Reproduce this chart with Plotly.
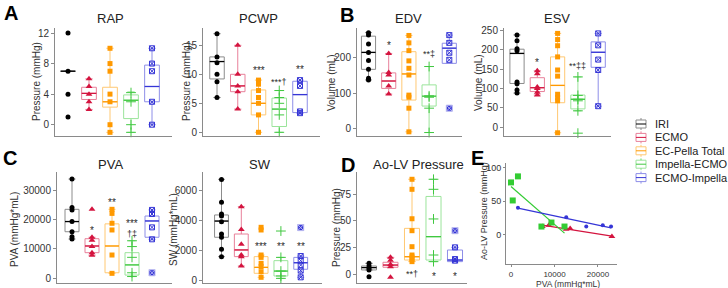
import numpy as np
import plotly.graph_objects as go

W, H = 728, 288
FONT = "Liberation Sans, Arial, sans-serif"

GROUPS = ["IRI", "ECMO", "EC-Pella Total", "Impella-ECMO", "ECMO-Impella"]

# ---- data: points per group, and box stats [lower whisker, q1, median, q3, upper whisker]
RAP_PTS = [[12, 7, 4, 1], [6, 5, 4, 3, 2], [10, 8, 7, 4, 3, 0, -1], [4.2, 3, 0, -1], [10, 8, 7, 3, 0]]
RAP_BOX = [[7, 7, 7, 7, 7], [2, 3.3, 4.1, 4.9, 6], [-1, 2.3, 3, 4.9, 10], [-1, 0.8, 3.2, 3.9, 4.3], [0, 3, 5, 7.8, 10]]
RAP_SIG = [[], [], [], [], []]

PCWP_PTS = [[17, 13, 12, 10, 8.7, 6], [15, 10, 8, 7, 4], [9, 8.3, 7.2, 6, 5, 3, 0], [7.2, 6, 5, 3, 0], [9, 8, 3.6, 3.3]]
PCWP_BOX = [[6, 9.2, 12.2, 13, 17], [4, 7, 8, 10, 15], [0, 3, 5, 7.3, 9], [0, 1, 4, 5.9, 7.2], [3.3, 3.4, 6.5, 8.8, 9]]
PCWP_SIG = [[], [], [("***", 11.1)], [("***†", 8.8)], [("**", 11.4)]]

EDV_PTS = [[271, 264, 239, 215, 192, 167, 142, 137], [212, 158, 151, 120, 97],
           [263, 242, 220, 191, 170, 151, 94, 88, 57, -10], [175, 92, 88, 57, -12], [264, 242, 214, 194, 57]]
EDV_BOX = [[137, 167, 215, 261, 271], [97, 113, 134, 157, 212], [-10, 80, 154, 217, 263],
           [-12, 63, 91, 123, 175], [184, 184, 227, 241, 264]]
EDV_SIG = [[], [("*", 242)], [("*", 287)], [("**‡", 213)], []]

ESV_PTS = [[239, 224, 203, 198, 117, 112, 96, 88], [146, 138, 104, 100, 90, 83],
           [243, 227, 211, 182, 148, 132, 85, 76, 68, -15], [130, 82, 72, 68, 42, -16], [243, 212, 175, 148, 54]]
ESV_BOX = [[88, 113, 191, 202, 239], [83, 92, 102, 128, 146], [-15, 63, 108, 182, 243],
           [42, 47, 72, 83, 130], [54, 155, 194, 221, 243]]
ESV_SIG = [[], [("*", 176)], [], [("**‡‡", 161)], []]

PVA_PTS = [[34000, 24200, 23400, 19400, 15900, 14200, 13400], [23600, 14000, 13000, 10800, 8700, 7800],
           [23600, 22200, 18800, 16500, 7900, 1600], [12800, 10800, 7100, 1800, 500], [23400, 22000, 17400, 13300, 1800]]
PVA_BOX = [[13400, 15900, 19400, 23600, 34000], [7800, 8700, 11000, 13500, 14000], [1600, 1800, 11000, 18600, 23600],
           [500, 1000, 4500, 8700, 12800], [13300, 14000, 19600, 21300, 23400]]
PVA_SIG = [[], [("*", 17500)], [("**", 27100)], [("***", 19700), ("†‡", 15500)], []]

SW_PTS = [[6760, 5220, 4430, 4300, 3920, 3090, 2870, 2060, 1570], [4930, 3400, 2400, 1680, 1570, 940],
          [3540, 3360, 1680, 1520, 1120, 900, 560, 180], [3290, 1520, 600, 270, 110], [3520, 1610, 1300, 1000, 630, 180]]
SW_BOX = [[1570, 2870, 3960, 4370, 6760], [940, 1570, 2020, 3090, 4930], [180, 450, 850, 1570, 1680],
          [110, 270, 600, 1300, 1520], [180, 720, 1160, 1520, 1610]]
SW_SIG = [[], [], [("***", 2420)], [("**", 2420)], [("**", 2420)]]

AOLV_PTS = [[10, 7.5, 5.3, 3.8, -2.5], [15.6, 13, 9, 6.9, -3], [88.8, 79.4, 51.8, 40.6, 25.6, 17.8, 16, 14, 11.6],
            [88.8, 79.4, 51.6, 17.8, 11.6], [40.6, 25, 14, 12.5]]
AOLV_BOX = [[3.8, 3.8, 6, 7.5, 10], [6.3, 6.3, 8.4, 11, 15.6], [11.6, 13.1, 16.2, 42.8, 88.8],
            [11.6, 13.1, 35, 72.7, 88.8], [11.6, 11.6, 13.1, 22.5, 25]]
AOLV_SIG = [[], [], [("**†", 0.5)], [("*", 0.5)], [("*", 0.5)]]

# panel E: PVA vs Ao-LV pressure
E_ECMO_X = [7200, 8700, 12700, 13600, 23200]
E_ECMO_Y = [12, 14, 8, 9, -3]
E_IMPECMO_X = [0, 1600, 400, 7000, 9300, 12300]
E_IMPECMO_Y = [78, 87, 51, 12, 18, 12]
E_ECMOIMP_X = [1600, 12700, 17300, 21100, 23000]
E_ECMOIMP_Y = [40, 26, 12, 14, 12]

# ---- styles
DARK = ["#000000", "#d4143f", "#ff9900", "#40c840", "#3535d6"]
LIGHT = ["#8c8c8c", "#e8809a", "#ffc873", "#9be49b", "#8e8ee8"]
MARKERS = [
    dict(symbol="circle", size=5),
    dict(symbol="triangle-up", size=6),
    dict(symbol="square", size=5),
    dict(symbol="cross-thin-open", size=7),
    dict(symbol="square-x-open", size=5),
]
AXC = "#8a8a8a"
TXT = "#2a2a2a"
TICKFONT = dict(family=FONT, size=10, color="#333333")


def fx(px):
    return px / W


def fy(py):
    return 1 - py / H


def yrange(p_top, p_bot, cal):
    (va, pa), (vb, pb) = cal
    k = (vb - va) / (pb - pa)
    return [va + (p_bot - pa) * k, va + (p_top - pa) * k]


def paper_text(x, y, text, size, color="#333333", angle=0, bold=False, anchor="center"):
    return dict(x=fx(x), y=fy(y), xref="paper", yref="paper", text=f"<b>{text}</b>" if bold else text,
                textangle=angle, showarrow=False, xanchor=anchor, yanchor="middle",
                font=dict(family=FONT, size=size, color=color))


PANELS = [
    dict(title="RAP", ytitle="Pressure (mmHg)", pts=RAP_PTS, box=RAP_BOX, sig=RAP_SIG,
         px=(55, 172, 28, 136), cal=((0, 124.7), (12, 33)), cat=(68, 21), ticks=[0, 4, 8, 12],
         tpos=(110, 18), ytpos=(36, 82)),
    dict(title="PCWP", ytitle="Pressure (mmHg)", pts=PCWP_PTS, box=PCWP_BOX, sig=PCWP_SIG,
         px=(203, 320, 28, 136), cal=((0, 132.3), (5, 103.3)), cat=(217, 20.75), ticks=[0, 5, 10, 15],
         tpos=(258, 18), ytpos=(186, 82)),
    dict(title="EDV", ytitle="Volume (mL)", pts=EDV_PTS, box=EDV_BOX, sig=EDV_SIG,
         px=(357, 462, 28, 136), cal=((0, 128.3), (200, 57.7)), cat=(368.5, 20.2), ticks=[0, 100, 200],
         tpos=(408, 18), ytpos=(331, 83)),
    dict(title="ESV", ytitle="Volume (mL)", pts=ESV_PTS, box=ESV_BOX, sig=ESV_SIG,
         px=(504, 611, 28, 136), cal=((0, 127), (250, 30.7)), cat=(517, 20.3), ticks=[0, 50, 100, 150, 200, 250],
         tpos=(557, 19), ytpos=(478, 83)),
    dict(title="PVA", ytitle="PVA (mmHg*mL)", pts=PVA_PTS, box=PVA_BOX, sig=PVA_SIG,
         px=(57, 172, 172, 283), cal=((0, 278), (30000, 190.7)), cat=(72, 20), ticks=[0, 10000, 20000, 30000],
         tpos=(110, 164), ytpos=(14, 230)),
    dict(title="SW", ytitle="SW (mmHg*mL)", pts=SW_PTS, box=SW_BOX, sig=SW_SIG,
         px=(203, 322, 172, 283), cal=((0, 280), (6000, 190.7)), cat=(221.5, 19.8), ticks=[0, 2000, 4000, 6000],
         tpos=(260, 164), ytpos=(173, 230)),
    dict(title="Ao-LV Pressure", ytitle="Pressure (mmHg)", pts=AOLV_PTS, box=AOLV_BOX, sig=AOLV_SIG,
         px=(357, 467, 172, 283), cal=((0, 274), (75, 194)), cat=(369, 21.5), ticks=[0, 25, 50, 75],
         tpos=(419, 164), ytpos=(336, 228)),
]

fig = go.Figure()
layout = dict(width=W, height=H, margin=dict(l=0, r=0, t=0, b=0, autoexpand=False), paper_bgcolor="white",
              plot_bgcolor="white", showlegend=False, boxmode="overlay", font=dict(family=FONT))
annotations = []
shapes = []
BW = 0.7

for k, p in enumerate(PANELS, start=1):
    xa, ya = f"x{k}", f"y{k}"
    x0, x1, y0, y1 = p["px"]
    c0, s = p["cat"]
    layout[f"xaxis{k}"] = dict(domain=[fx(x0), fx(x1)], range=[(x0 - c0) / s, (x1 - c0) / s], anchor=ya,
                               showline=True, linecolor=AXC, linewidth=1, showticklabels=False, ticks="",
                               showgrid=False, zeroline=False, fixedrange=True)
    layout[f"yaxis{k}"] = dict(domain=[fy(y1), fy(y0)], range=yrange(y0, y1, p["cal"]), anchor=xa,
                               showline=True, linecolor=AXC, linewidth=1, ticks="outside", ticklen=3,
                               tickcolor=AXC, tickvals=p["ticks"], tickformat="d", tickfont=TICKFONT,
                               showgrid=False, zeroline=False, fixedrange=True)
    for g in range(5):
        lo, q1, med, q3, hi = p["box"][g]
        fig.add_trace(go.Box(x=[g], q1=[q1], median=[med], q3=[q3], lowerfence=[lo], upperfence=[hi],
                             width=BW, line=dict(color=LIGHT[g], width=1), fillcolor="rgba(255,255,255,0)",
                             xaxis=xa, yaxis=ya, hoverinfo="skip", boxpoints=False))
        fig.add_trace(go.Scatter(x=[g - BW / 2, g + BW / 2], y=[med, med], mode="lines",
                                 line=dict(color=DARK[g], width=1.3), xaxis=xa, yaxis=ya, hoverinfo="skip"))
        vals = np.array(p["pts"][g], float)
        if g == 4:
            inside = vals[(vals >= lo - 1e-9) & (vals <= hi + 1e-9)]
            outside = vals[(vals < lo - 1e-9) | (vals > hi + 1e-9)]
        else:
            inside, outside = vals, np.array([])
        m = dict(MARKERS[g])
        m.update(color=DARK[g], line=dict(color=DARK[g], width=1 if g >= 3 else 0))
        fig.add_trace(go.Scatter(x=[g] * len(inside), y=inside, mode="markers", marker=m,
                                 xaxis=xa, yaxis=ya, hoverinfo="skip", cliponaxis=False))
        if len(outside):
            fig.add_trace(go.Scatter(x=[g] * len(outside), y=outside, mode="markers",
                                     marker=dict(symbol="square-x", size=6, color=DARK[g],
                                                 line=dict(color="#b8b8f0", width=1)),
                                     xaxis=xa, yaxis=ya, hoverinfo="skip", cliponaxis=False))
        for txt, yy in p["sig"][g]:
            star_only = set(txt) <= {"*"}
            annotations.append(dict(x=g, y=yy, xref=xa, yref=ya, text=txt, showarrow=False,
                                    xanchor="center", yanchor="middle",
                                    font=dict(family=FONT, size=10 if star_only else 9, color=TXT),
                                    yshift=-3 if star_only else -1))
    tx, ty = p["tpos"]
    annotations.append(paper_text(tx, ty, p["title"], 13, "#222222"))
    ax_, ay_ = p["ytpos"]
    annotations.append(paper_text(ax_, ay_, p["ytitle"], 10, angle=-90))

# ---- panel E
layout["xaxis8"] = dict(domain=[fx(506), fx(617)], range=[-1150, 24370], anchor="y8", showline=True,
                        linecolor=AXC, ticks="outside", ticklen=2, tickcolor=AXC, tickvals=[0, 10000, 20000],
                        tickformat="d", tickfont=dict(family=FONT, size=8, color="#333333"), showgrid=False,
                        zeroline=False, fixedrange=True)
layout["yaxis8"] = dict(domain=[fy(264), fy(163)], range=[-44, 107], anchor="x8", showline=True, linecolor=AXC,
                        ticks="outside", ticklen=2, tickcolor=AXC, tickvals=[0, 50, 100],
                        tickfont=dict(family=FONT, size=9, color="#333333"), showgrid=False, zeroline=False,
                        fixedrange=True)
E_SERIES = [
    (E_ECMO_X, E_ECMO_Y, DARK[1], dict(symbol="triangle-up", size=6)),
    (E_IMPECMO_X, E_IMPECMO_Y, "#33cc33", dict(symbol="square", size=6)),
    (E_ECMOIMP_X, E_ECMOIMP_Y, DARK[4], dict(symbol="circle", size=4)),
]
for xs, ys, c, m in E_SERIES:
    xs_a, ys_a = np.array(xs, float), np.array(ys, float)
    slope, icpt = np.polyfit(xs_a, ys_a, 1)
    lx = np.array([xs_a.min(), xs_a.max()])
    fig.add_trace(go.Scatter(x=lx, y=slope * lx + icpt, mode="lines", line=dict(color=c, width=1.2),
                             xaxis="x8", yaxis="y8", hoverinfo="skip"))
    mm = dict(m)
    mm.update(color=c)
    fig.add_trace(go.Scatter(x=xs, y=ys, mode="markers", marker=mm, xaxis="x8", yaxis="y8", hoverinfo="skip"))
annotations.append(paper_text(484, 211, "Ao-LV Pressure (mmHg)", 9, angle=-90))
annotations.append(paper_text(568, 283.5, "PVA (mmHg*mL)", 8.5))

# ---- panel letters
for letter, (lx_, ly_) in zip("ABCDE", [(11, 13), (347, 15), (10, 158), (348, 165), (477, 158)]):
    annotations.append(paper_text(lx_, ly_, letter, 20, "#000000", bold=True))

# ---- legend (manual, pixel-unit axis)
layout["xaxis9"] = dict(domain=[fx(625), 1], range=[625, 728], visible=False, fixedrange=True, anchor="y9")
layout["yaxis9"] = dict(domain=[fy(195), fy(110)], range=[195, 110], visible=False, fixedrange=True, anchor="x9")
LX, LY0, LDY = 641, 124, 13.4
for g in range(5):
    yy = LY0 + g * LDY
    shapes.append(dict(type="line", xref="x9", yref="y9", x0=LX, x1=LX, y0=yy - 6, y1=yy + 6,
                       line=dict(color=LIGHT[g], width=1)))
    shapes.append(dict(type="rect", xref="x9", yref="y9", x0=LX - 5, x1=LX + 5, y0=yy - 4, y1=yy + 4,
                       line=dict(color=LIGHT[g], width=1), fillcolor="white"))
    shapes.append(dict(type="line", xref="x9", yref="y9", x0=LX - 5, x1=LX + 5, y0=yy, y1=yy,
                       line=dict(color=DARK[g], width=1)))
    m = dict(MARKERS[g])
    m.update(color=DARK[g], line=dict(color=DARK[g], width=1 if g >= 3 else 0))
    fig.add_trace(go.Scatter(x=[LX], y=[yy], mode="markers", marker=m, xaxis="x9", yaxis="y9",
                             hoverinfo="skip"))
    annotations.append(dict(x=LX + 12, y=yy, xref="x9", yref="y9", text=GROUPS[g], xanchor="left",
                            yanchor="middle", showarrow=False, font=dict(family=FONT, size=11, color="#222222")))

layout["annotations"] = annotations
layout["shapes"] = shapes
fig.update_layout(**layout)
fig.write_html("out.html", config={"displayModeBar": False},
               post_script="document.body.style.margin='0';document.body.style.overflow='hidden';")
